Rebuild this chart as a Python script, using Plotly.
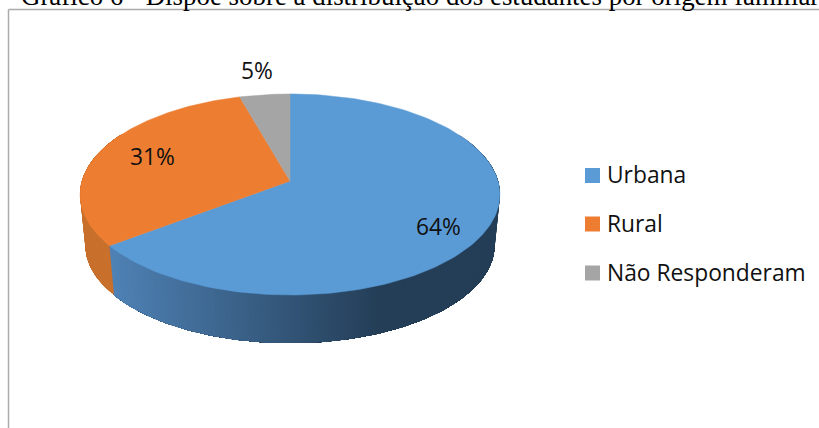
import numpy as np
import plotly.graph_objects as go

categories = ["Urbana", "Rural", "Não Responderam"]
values = [64.7, 30.9, 4.4]
value_labels = ["64%", "31%", "5%"]
title_text = "Gráfico 6 - Dispõe sobre a distribuição dos estudantes por origem familiar"

top_colors = ["#5B9BD5", "#ED7D31", "#A5A5A5"]
wall_left = [(79, 130, 182), (200, 112, 44), (120, 120, 120)]
wall_right = [(36, 62, 87), (196, 108, 42), (120, 120, 120)]
FONT = "Open Sans"

W, H = 819, 428
CX, CY, A, B, P = 290.0, 181.0, 208.0, 98.7, 0.134
SCALE_BOTTOM, DROP = 0.975, 51.0


def top_rim(theta):
    d = 1 + P * np.cos(theta)
    return CX + A * np.sin(theta) / d, CY - B * np.cos(theta) / d


def bottom_rim(theta):
    x, y = top_rim(theta)
    return CX + (x - CX) * SCALE_BOTTOM, CY + (y - CY) * SCALE_BOTTOM + DROP


def hex_rgb(c):
    return "rgb(%d,%d,%d)" % c


fig = go.Figure()
fractions = np.array(values) / sum(values)
edges = np.concatenate([[0], np.cumsum(fractions)]) * 2 * np.pi

# Side wall, built from the slice angles; each strip paints over the rest of the slice
for i in range(len(values)):
    start, end = max(edges[i], np.radians(60)), min(edges[i + 1], np.radians(300))
    if end <= start:
        continue
    n = max(2, int(np.degrees(end - start)))
    ts = np.linspace(start, end, n + 1)
    for t0 in ts[:-1]:
        t_span = np.linspace(t0, end, 2 + int(np.degrees(end - t0)))
        xa, ya = top_rim(t_span)
        xb, yb = bottom_rim(t_span[::-1])
        mid = (bottom_rim(t0)[0] - 113) / (380 - 113)
        mid = float(np.clip(mid, 0, 1))
        col = tuple(int(round(l + (r - l) * mid)) for l, r in zip(wall_left[i], wall_right[i]))
        c = hex_rgb(col)
        fig.add_trace(go.Scatter(
            x=np.concatenate([xa, xb]), y=np.concatenate([ya, yb]),
            mode="lines", fill="toself", fillcolor=c, line=dict(width=0),
            hoverinfo="skip", showlegend=False))

# Top face of each slice
for i, name in enumerate(categories):
    ts = np.linspace(edges[i], edges[i + 1], 160)
    x, y = top_rim(ts)
    fig.add_trace(go.Scatter(
        x=np.concatenate([[CX], x, [CX]]), y=np.concatenate([[CY], y, [CY]]),
        mode="lines", fill="toself", fillcolor=top_colors[i],
        line=dict(color=top_colors[i], width=0.5), name=name,
        hoverinfo="name", showlegend=False))

# Legend drawn to the reference's spacing
legend_x = 592.5
legend_y = [175.5, 224, 273]
fig.add_trace(go.Scatter(
    x=[legend_x] * 3, y=legend_y, mode="markers",
    marker=dict(symbol="square", size=15, color=top_colors, line=dict(width=0)),
    hoverinfo="skip", showlegend=False))

shapes = [
    dict(type="line", x0=8.5, x1=8.5, y0=9.5, y1=H, line=dict(color="#ABABAB", width=1.5)),
    dict(type="line", x0=8.5, x1=W, y0=9.5, y1=9.5, line=dict(color="#ABABAB", width=1.5)),
]

annotations = [dict(x=419.5, y=13, text=title_text, showarrow=False, xanchor="center", yanchor="bottom",
                    font=dict(family="Liberation Serif", size=26.9, color="#000"))]
for txt, (x, y) in zip(value_labels, [(438, 226.5), (152, 156.5), (257, 70.5)]):
    annotations.append(dict(x=x, y=y, text=txt, showarrow=False, xanchor="center", yanchor="middle",
                            font=dict(family=FONT, size=22.8, color="#111")))
for name, y in zip(categories, legend_y):
    annotations.append(dict(x=605, y=y - 1, text=name, showarrow=False, xanchor="left", yanchor="middle",
                            font=dict(family=FONT, size=22.8, color="#111")))

fig.update_layout(
    width=W, height=H, margin=dict(l=0, r=0, t=0, b=0),
    paper_bgcolor="white", plot_bgcolor="white", showlegend=False,
    xaxis=dict(range=[0, W], visible=False, fixedrange=True),
    yaxis=dict(range=[H, 0], visible=False, fixedrange=True),
    shapes=shapes, annotations=annotations,
)
fig.write_html("out.html", config=dict(displayModeBar=False),
               post_script="document.body.style.margin='0';document.body.style.overflow='hidden';")
